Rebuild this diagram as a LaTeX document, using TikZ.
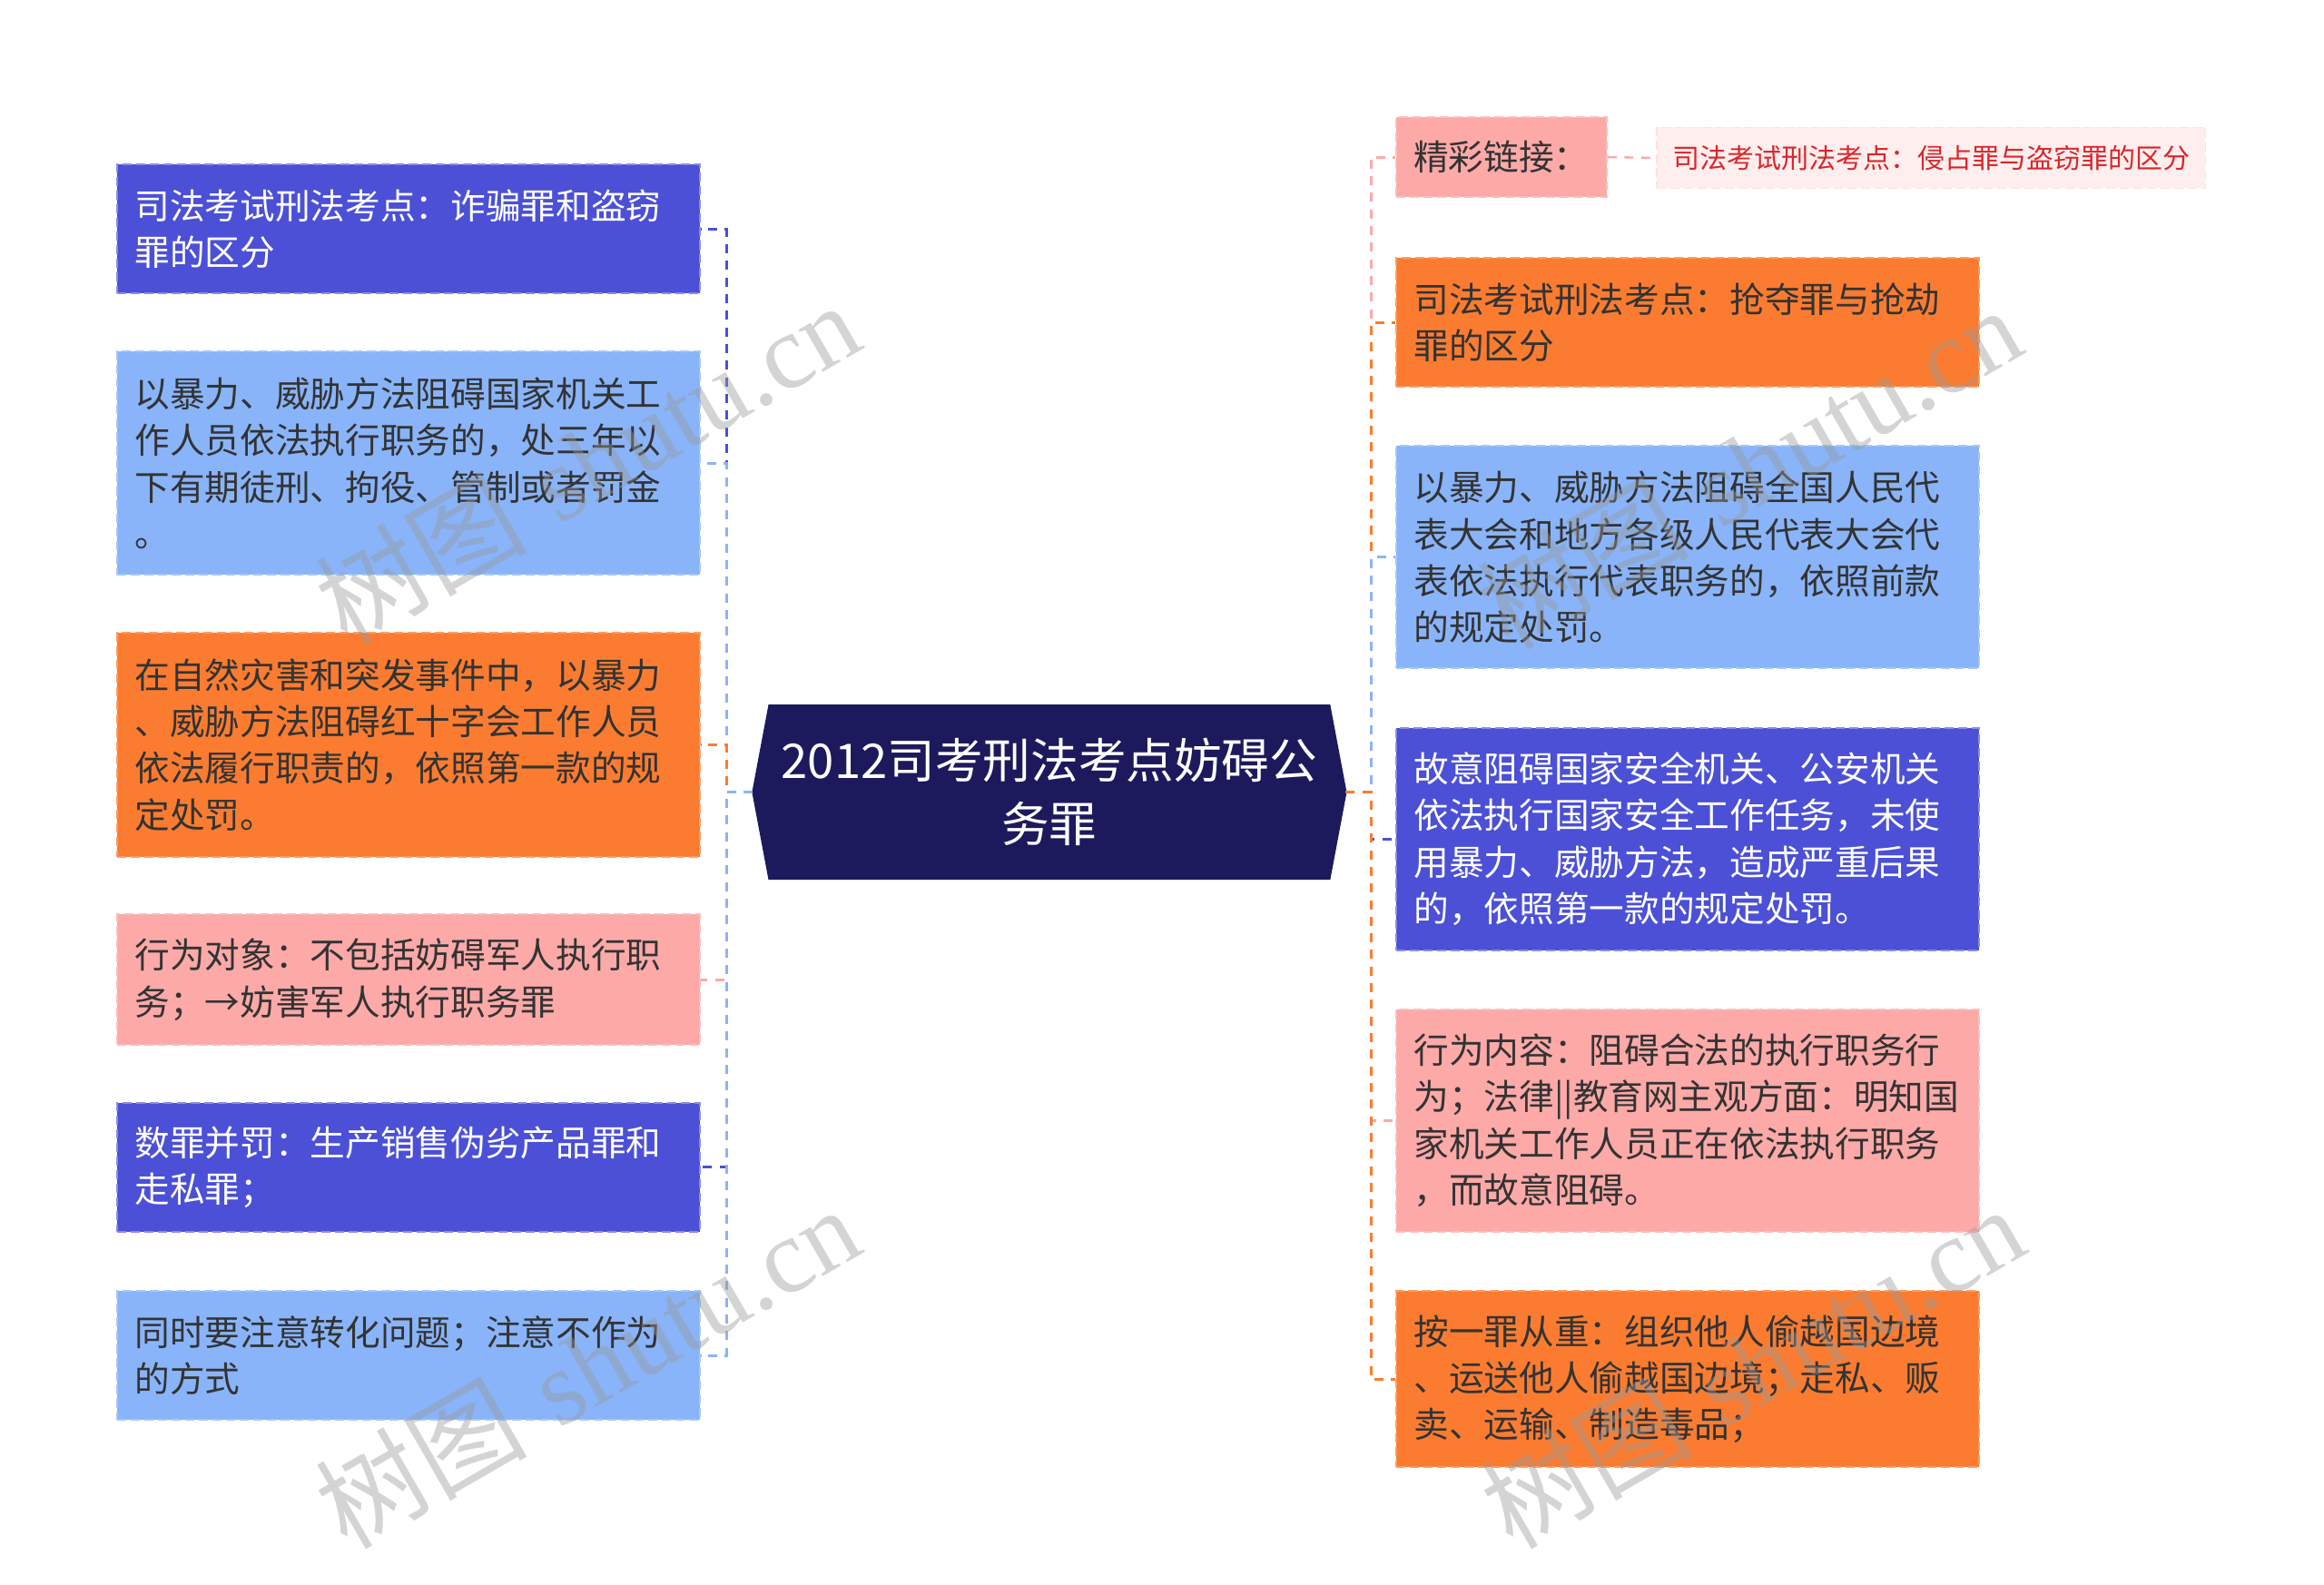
\documentclass[tikz,border=0pt]{standalone}
\usepackage{fontspec}
\newfontfamily\cjk{Noto Sans CJK SC}
\newfontfamily\wmserif{Liberation Serif}
\definecolor{cDark}{HTML}{4B50D6}
\definecolor{cLight}{HTML}{89B4F9}
\definecolor{cOrange}{HTML}{FB7C30}
\definecolor{cPink}{HTML}{FCA9A8}
\definecolor{cNavy}{HTML}{1C1A5C}
\definecolor{cPale}{HTML}{FEEEEE}
\definecolor{cRed}{HTML}{D9262C}
\definecolor{cText}{HTML}{333333}
\tikzset{
  boxbase/.style={rectangle, inner xsep=5.88pt, inner ysep=0pt, align=left,
    font=\cjk\fontsize{11.6pt}{15.4pt}\selectfont, line width=0.6pt,
    dash pattern=on 3pt off 1.5pt},
  wide/.style={boxbase, minimum width=192.57pt, text width=180.81pt},
  bdark/.style={wide, fill=cDark, draw=cDark!65!white, text=white},
  blight/.style={wide, fill=cLight, draw=cLight!75!white, text=cText},
  borange/.style={wide, fill=cOrange, draw=cOrange!75!white, text=cText},
  bpink/.style={wide, fill=cPink, draw=cPink!75!white, text=cText},
  conn/.style={line width=0.9pt, dash pattern=on 3pt off 2.5pt},
  rootshape/.style={fill=cNavy, draw=cNavy, line width=0.6pt},
  wmark/.style={rotate=30, text=black!40, opacity=0.42, font=\fontsize{35pt}{35pt}\selectfont}
}
\begin{document}
\begin{tikzpicture}[x=0.49pt,y=-0.49pt]
\useasboundingbox (0,0) rectangle (1568,1069);
\fill[white] (0,0) rectangle (1568,1069);

% root
\coordinate (rootW) at (508,534.5);
\coordinate (rootE) at (908,534.5);
\path[rootshape] (rootW) -- (519,476) -- (897,476) -- (rootE) -- (897,593) -- (519,593) -- cycle;
\node[text=white, align=center, inner sep=0pt,
  font=\cjk\fontsize{15.8pt}{21pt}\selectfont] (root) at (708,534.5)
  {2012司考刑法考点妨碍公\\务罪};

% left
\node[bdark, minimum height=42.63pt] (L1) at (275.5,154.5)
  {司法考试刑法考点：诈骗罪和盗窃\\罪的区分};
\node[blight, minimum height=73.99pt] (L2) at (275.5,312.5)
  {以暴力、威胁方法阻碍国家机关工\\作人员依法执行职务的，处三年以\\下有期徒刑、拘役、管制或者罚金\\。};
\node[borange, minimum height=73.99pt] (L3) at (275.5,502.5)
  {在自然灾害和突发事件中，以暴力\\、威胁方法阻碍红十字会工作人员\\依法履行职责的，依照第一款的规\\定处罚。};
\node[bpink, minimum height=43.12pt] (L4) at (275.5,661)
  {行为对象：不包括妨碍军人执行职\\务；→妨害军人执行职务罪};
\node[bdark, minimum height=42.63pt] (L5) at (275.5,787.5)
  {数罪并罚：生产销售伪劣产品罪和\\走私罪；};
\node[blight, minimum height=42.63pt] (L6) at (275.5,914.5)
  {同时要注意转化问题；注意不作为\\的方式};

% right
\node[boxbase, fill=cPink, draw=cPink!75!white, text=cText, align=center,
  minimum width=69.58pt, minimum height=26.46pt] (R1) at (1013,106)
  {精彩链接：};
\node[rectangle, fill=cPale, draw=cPink!35!white, line width=0.5pt,
  dash pattern=on 3pt off 1.5pt, text=cRed, inner sep=0pt,
  minimum width=181.3pt, minimum height=20.09pt,
  font=\cjk\fontsize{9pt}{11pt}\selectfont] (R1b) at (1303,106.5)
  {司法考试刑法考点：侵占罪与盗窃罪的区分};
\node[borange, minimum height=42.63pt] (R2) at (1138.5,217.5)
  {司法考试刑法考点：抢夺罪与抢劫\\罪的区分};
\node[blight, minimum height=73.5pt] (R3) at (1138.5,376)
  {以暴力、威胁方法阻碍全国人民代\\表大会和地方各级人民代表大会代\\表依法执行代表职务的，依照前款\\的规定处罚。};
\node[bdark, minimum height=73.5pt] (R4) at (1138.5,566)
  {故意阻碍国家安全机关、公安机关\\依法执行国家安全工作任务，未使\\用暴力、威胁方法，造成严重后果\\的，依照第一款的规定处罚。};
\node[bpink, minimum height=73.5pt] (R5) at (1138.5,756)
  {行为内容：阻碍合法的执行职务行\\为；法律||教育网主观方面：明知国\\家机关工作人员正在依法执行职务\\，而故意阻碍。};
\node[borange, minimum height=58.31pt] (R6) at (1138.5,930.5)
  {按一罪从重：组织他人偷越国边境\\、运送他人偷越国边境；走私、贩\\卖、运输、制造毒品；};

% junctions
\coordinate (jl) at (490,534.5);
\coordinate (jr) at (925,534.5);

% connectors left
\draw[conn, cDark]   (rootW) -- (jl) |- (L1.east);
\draw[conn, cLight]  (rootW) -- (jl) |- (L2.east);
\draw[conn, cOrange] (rootW) -- (jl) |- (L3.east);
\draw[conn, cPink]   (rootW) -- (jl) |- (L4.east);
\draw[conn, cDark]   (rootW) -- (jl) |- (L5.east);
\draw[conn, cLight]  (rootW) -- (jl) |- (L6.east);
% connectors right
\draw[conn, cPink]   (rootE) -- (jr) |- (R1.west);
\draw[conn, cOrange] (rootE) -- (jr) |- (R2.west);
\draw[conn, cLight]  (rootE) -- (jr) |- (R3.west);
\draw[conn, cDark]   (rootE) -- (jr) |- (R4.west);
\draw[conn, cPink]   (rootE) -- (jr) |- (R5.west);
\draw[conn, cOrange] (rootE) -- (jr) |- (R6.west);
\draw[conn, cPink, line width=0.7pt] (R1.east) -- (R1b.west);

% watermarks
\node[wmark] (wm1) at (396,312) {{\cjk 树图} {\wmserif shutu.cn}};
\node[wmark] (wm2) at (396,922) {{\cjk 树图} {\wmserif shutu.cn}};
\node[wmark] (wm3) at (1180,315) {{\cjk 树图} {\wmserif shutu.cn}};
\node[wmark] (wm4) at (1182,922) {{\cjk 树图} {\wmserif shutu.cn}};
\end{tikzpicture}
\end{document}
